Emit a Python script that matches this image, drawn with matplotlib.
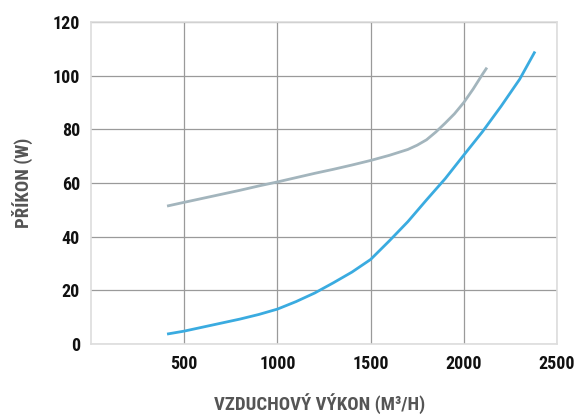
import matplotlib
matplotlib.use("Agg")
import matplotlib.pyplot as plt
from matplotlib import font_manager

names = {f.name for f in font_manager.fontManager.ttflist}
fam = [n for n in ["Liberation Sans Narrow", "Roboto Condensed", "Roboto", "DejaVu Sans"] if n in names]
plt.rcParams['font.family'] = fam

x_ticks = [500, 1000, 1500, 2000, 2500]
y_ticks = [0, 20, 40, 60, 80, 100, 120]

gray_x = [408, 500, 600, 700, 800, 900, 1000, 1100, 1200, 1300, 1400, 1500, 1600, 1700, 1750,
          1800, 1850, 1900, 1950, 2000, 2050, 2100, 2124]
gray_y = [51.4, 52.8, 54.3, 55.8, 57.3, 58.9, 60.4, 62.0, 63.6, 65.1, 66.7, 68.4, 70.3, 72.5, 74.1,
          76.1, 79.0, 82.3, 85.8, 90.0, 95.0, 100.5, 103.0]

blue_x = [408, 500, 600, 700, 800, 900, 1000, 1100, 1200, 1300, 1400, 1500, 1600, 1700, 1800,
          1900, 2000, 2100, 2200, 2300, 2382]
blue_y = [3.7, 4.8, 6.3, 7.8, 9.3, 11.0, 13.0, 15.8, 19.0, 22.8, 26.8, 31.5, 38.4, 45.6, 53.7,
          61.6, 70.4, 79.1, 88.6, 98.7, 109.0]

fig = plt.figure(figsize=(5.79, 4.16), dpi=100)
ax = fig.add_axes([91/579, 1-344/416, (557-91)/579, (344-22)/416])

ax.plot(gray_x, gray_y, color="#A3B5BD", lw=2.0, solid_capstyle='butt', zorder=3)
ax.plot(blue_x, blue_y, color="#3AABE0", lw=2.0, solid_capstyle='butt', zorder=3)

ax.set_xlim(0, 2500)
ax.set_ylim(0, 120)
ax.set_xticks(x_ticks)
ax.set_yticks(y_ticks)
ax.set_xticklabels([str(v) for v in x_ticks], fontsize=13, fontweight='bold', color='#111111')
ax.set_yticklabels([str(v) for v in y_ticks], fontsize=13, fontweight='bold', color='#111111')
ax.tick_params(length=0, pad=8)
ax.grid(True, color="#9a9a9a", lw=0.9)
for s in ax.spines.values():
    s.set_color("#dddddd")
    s.set_linewidth(1.2)
ax.set_axisbelow(True)

fig.text(320/579, 1-404/416, "VZDUCHOVÝ VÝKON (M³/H)", ha='center', va='center',
         fontsize=13.5, fontweight='bold', color='#555555')
fig.text(22/579, 1-183/416, "PŘÍKON (W)", ha='center', va='center', rotation=90,
         fontsize=13.5, fontweight='bold', color='#555555')

fig.savefig("out.png", dpi=100)
